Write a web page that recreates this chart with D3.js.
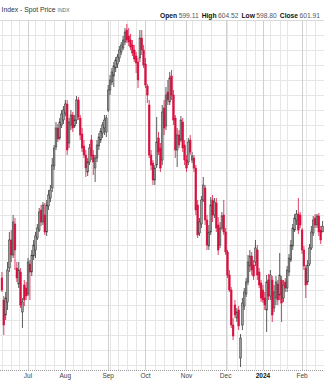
<!DOCTYPE html>
<html><head><meta charset="utf-8">
<script src="https://cdn.jsdelivr.net/npm/d3@7"></script>
<style>body{margin:0;background:#fff}svg{display:block}text{font-family:Arial,"Liberation Sans",sans-serif}</style>
</head><body><svg id="c" width="324" height="383"></svg>
<script>
const opens = [
576,565,557.5,564,581,595,587.5,603,581,573,
579,559,572.5,571,568,583,579,587,590,596,
600,610,604,607.5,599,612,616,621,632,641.5,
651,646,652.5,655,658.5,663,643.5,652.5,657.5,652,
655,665,656,648,642,637.5,629,634,645,637.5,
631,636,642,645,648.5,651,649,660,670,674,
677,681,683,686,689,691,694,700,697,695,
692.5,690,687,684,686,696,690,683,672,662.5,
637.5,633.5,625,632.5,646,641,635,661,652,669,
664,677,667.5,656,640,647.5,645,654,642.5,635,
634,645,635,636,631,612.5,598.5,603,615,621,
605,592,599,615,607.5,613.5,602.5,592.5,601,607.5,
599,589,577.5,570,552.5,562.5,556,560,536,552.5,
562,568,574,582,587,582.5,584,590,579,573.5,
570,566,560,575,567,575,561,566,573,567.5,
575,566,574,571,579,585,592,600,605,608,
607.5,600,590,581,574,583,591,598.5,606,602.5,
607,600,599.11];
const highs = [
579,567,569,584,599,600,607.5,606,584,584,
581,566,575,574,586,585,590,595,599,603,
611,612.5,614,613.5,615,620,622.5,636,642.5,654,
653,656,660,662,665,665,656,660,659,657.5,
667,666.5,657.5,651,645,640,636,643,647.5,640,
637.5,645,648.5,651,654,657.5,657.5,672.5,677.5,681,
684,686.5,688,692,694,697,701,703,701,698,
695,692.5,689,686,700,700,692.5,686,673,665,
640,635,632.5,656.5,649,643.5,662.5,665,671.5,675,
679,680,670,657.5,651,650,657,656,645,637.5,
646,647.5,639,637.5,632.5,615,606,617,626.5,622.5,
607.5,602.5,616.5,617.5,616,616,606.5,604,609,615,
601,590,580,571.5,556,565,561,562,548,566,
571,576,587.5,590,589,585,595,592.5,581,575,
572.5,569,577.5,578,580,577,572.5,577,575,588.5,
577,575,576,582,588,595,603,608,610,616,
609,601,592,582.5,585,593,602,607,608,608,
608.5,602,604.52];
const lows = [
569,547.5,555,560,579,584,586,580,574,571,
561,551,562,565,567,565,577,585,586,595,
599,602,602.5,597.5,597,610,614,619,630,640,
644,645,651,653,657,637.5,641,650,649,651,
653,655,645,639,636,626.5,627,632.5,635,627.5,
624,634,640,643.5,646,647.5,646.5,659,667.5,672.5,
671.5,679,681,684,687.5,690,692.5,693.5,692,690,
687,684,678.5,671,684,687.5,681,671,663.5,636,
630,622.5,622.5,631,637.5,629,632.5,647.5,650,662.5,
662.5,665,652.5,636,631.5,641,644,639,632.5,629,
632.5,637.5,633.5,629,607.5,596,597,601,614,602.5,
590,590,597.5,604,606,599,587.5,591,600,597.5,
587.5,576,569,551,545,556,554,550,531.5,550,
560,566.5,572.5,579,577.5,575,582,575,571,564,
563.5,560,549,565,565,554,559,562.5,562.5,565,
554,564,569,569,577,584,590,599,602.5,598,
601,588,580,566,572.5,582,590,597,601,601,
597,593,598.80];
const closes = [
570,552.5,566,580,595,587.5,604,590,576,580,
562.5,564,565,567,584,579,587.5,592.5,597,601,
609,604,612.5,599,612.5,617.5,620,632.5,641,651,
645.5,654,658,660,663,640,654,657.5,651,655,
665,656.5,647.5,641,637.5,631,634,641,637,634,
636,642.5,646.5,649.5,652.5,655,656,670,675,679,
682,685,686.5,690,692.5,695,699,695,694,691.5,
688.5,685.5,683.5,675,696,690,682.5,672.5,667.5,637.5,
632.5,625,631,644,639,631,659,651,667.5,665,
676,667.5,655,640,647.5,642.5,655,641,635,631,
644,639,637,631,610,597.5,604,615,622.5,605,
592.5,599,612.5,607.5,614,601,590,601,607,599,
589,577.5,570,552.5,547,557.5,559,552,546,563.5,
569,574,584,587,580,577,591,577.5,572.5,566,
565,562.5,574,567,577.5,557.5,569,574,565,577.5,
563.5,572.5,571,580,586,592.5,601,606,608,600,
602.5,590,582,572.5,582.5,591,599,605,602.5,607,
599,595,601.91];

// trading calendar (categories)
const firstDay = "2023-06-12", lastDay = "2024-02-16";
const holidays = ["2023-06-19","2023-07-04","2023-09-04","2023-11-23","2023-12-25","2024-01-01","2024-01-15"];
const monthLabels = ["Jul","Aug","Sep","Oct","Nov","Dec","2024","Feb"];
const boldLabels = ["2024"];
const quote = [["Open","599.11"],["High","604.52"],["Low","598.80"],["Close","601.91"]];
const yDomain = [530, 705];
const gridStep = 7.5;

const fmt = d3.utcFormat("%Y-%m-%d");
const parse = d3.utcParse("%Y-%m-%d");
const dates = d3.utcDay.range(parse(firstDay), d3.utcDay.offset(parse(lastDay), 1))
  .filter(d => d.getUTCDay() !== 0 && d.getUTCDay() !== 6 && !holidays.includes(fmt(d)));

const data = dates.map((d, i) => ({d, key: fmt(d), o: opens[i], h: highs[i], l: lows[i], c: closes[i]}));

const W = 324, plotTop = 20, plotBottom = 370;
const svg = d3.select("#c");
const x = d3.scaleBand().domain(data.map(d => d.key)).range([1, 323.5]).padding(0);
const y = d3.scaleLinear().domain(yDomain).range([plotBottom, plotTop]);
const cx = k => x(k) + x.bandwidth() / 2;

const monthIdx = [], weekIdx = [];
data.forEach((d, i) => {
  if (i > 0 && d.d.getUTCMonth() !== data[i - 1].d.getUTCMonth()) monthIdx.push(i);
});
data.forEach((d, i) => {
  const wk = +d3.utcWeek.floor(d.d);
  if (i === 0 || wk !== +d3.utcWeek.floor(data[i - 1].d)) {
    const clash = monthIdx.some(m => m !== i && +d3.utcWeek.floor(data[m].d) === wk);
    if (!monthIdx.includes(i) && !clash) weekIdx.push(i);
  }
});

const g = svg.append("g");
g.selectAll(".hg").data(d3.range(yDomain[1], yDomain[0], -gridStep)).enter().append("line")
  .attr("x1", 0).attr("x2", W)
  .attr("y1", v => Math.round(y(v)) + 0.5).attr("y2", v => Math.round(y(v)) + 0.5)
  .attr("stroke", "#e6e6e6").attr("stroke-width", 1);
g.selectAll(".wg").data(weekIdx).enter().append("line")
  .attr("x1", i => Math.round(cx(data[i].key)) + 0.5).attr("x2", i => Math.round(cx(data[i].key)) + 0.5)
  .attr("y1", plotTop).attr("y2", plotBottom)
  .attr("stroke", "#e6e6e6");
g.selectAll(".mg").data(monthIdx).enter().append("line")
  .attr("x1", i => Math.round(cx(data[i].key)) + 0.5).attr("x2", i => Math.round(cx(data[i].key)) + 0.5)
  .attr("y1", plotTop).attr("y2", plotBottom)
  .attr("stroke", "#cfcfcf");
g.append("line").attr("x1", 0).attr("x2", W).attr("y1", plotTop + 0.5).attr("y2", plotTop + 0.5).attr("stroke", "#d8d8d8");
g.append("line").attr("x1", 0).attr("x2", W).attr("y1", plotBottom + 0.5).attr("y2", plotBottom + 0.5)
  .attr("stroke", "#999").attr("stroke-dasharray", "1,1");

svg.selectAll(".ml").data(monthIdx).enter().append("text")
  .attr("x", i => cx(data[i].key)).attr("y", 377.5)
  .attr("text-anchor", "middle").attr("font-size", 6.5)
  .attr("font-weight", (i, k) => boldLabels.includes(monthLabels[k]) ? "bold" : "normal")
  .attr("fill", (i, k) => boldLabels.includes(monthLabels[k]) ? "#111" : "#444")
  .text((i, k) => monthLabels[k]);

const up = "#333", upFill = "#9a9a9a", dn = "#d80f3f";
const bw = 1.7;
const cg = svg.append("g");
cg.selectAll(".wick").data(data).enter().append("line")
  .attr("x1", d => cx(d.key)).attr("x2", d => cx(d.key))
  .attr("y1", d => y(d.h)).attr("y2", d => y(d.l))
  .attr("stroke", d => d.c >= d.o ? up : dn).attr("stroke-width", 0.8);
cg.selectAll(".body").data(data).enter().append("rect")
  .attr("x", d => cx(d.key) - bw / 2).attr("width", bw)
  .attr("y", d => y(Math.max(d.o, d.c)))
  .attr("height", d => Math.max(0.8, Math.abs(y(d.o) - y(d.c))))
  .attr("fill", d => d.c >= d.o ? upFill : dn)
  .attr("stroke", d => d.c >= d.o ? up : dn).attr("stroke-width", 0.5);

const t = svg.append("text").attr("x", 1.5).attr("y", 11.5).attr("font-size", 6.8).attr("fill", "#333");
t.append("tspan").text("Index - Spot Price");
t.append("tspan").attr("font-size", 5).attr("fill", "#666").attr("dx", 2).text("INDX");

const q = svg.append("text").attr("x", 320).attr("y", 18).attr("text-anchor", "end").attr("font-size", 6.7);
quote.forEach(([k, v], j) => {
  q.append("tspan").attr("font-weight", "bold").attr("fill", "#111").attr("dx", j ? 3 : 0).text(k);
  q.append("tspan").attr("fill", "#555").attr("dx", 1.5).text(v);
});
</script></body></html>
